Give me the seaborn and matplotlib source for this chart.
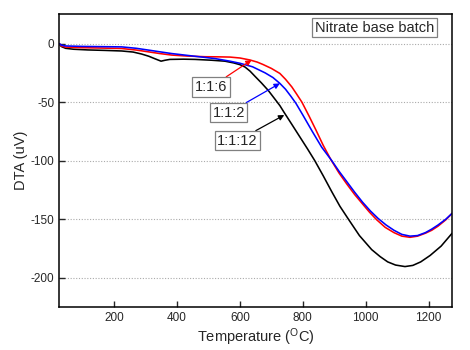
import numpy as np
import pandas as pd
import seaborn as sns
import matplotlib.pyplot as plt

# DTA curves (temperature in C, DTA in uV)
t_12 = [25, 32, 45, 70, 116, 170, 224, 260, 287, 310, 330, 349, 362, 377, 420, 457, 510, 552,
        580, 600, 616, 632, 648, 668, 690, 710, 727, 741, 765, 790, 815, 838, 865, 892, 918,
        945, 980, 1019, 1046, 1070, 1095, 1125, 1150, 1175, 1205, 1240, 1275]
dta_12 = [-0.5, -2.5, -4, -4.8, -5.4, -5.8, -6.3, -7.2, -8.9, -10.8, -13, -15, -14.2, -13.5, -13.3, -13.5, -14.2, -15,
          -16.5, -18, -20, -23.5, -28, -33.5, -40, -47, -53, -59, -69, -79.5, -90, -100, -113, -126.5, -139,
          -150, -164, -176, -182, -186.5, -189.2, -190.5, -189.5, -186.5, -181, -173, -162]

t_6 = [25, 32, 45, 100, 160, 224, 270, 308, 345, 383, 430, 489, 530, 568, 600, 632, 655, 673,
       700, 727, 745, 765, 780, 797, 820, 842, 865, 890, 915, 940, 965, 990, 1012, 1035, 1062,
       1090, 1115, 1141, 1165, 1190, 1210, 1230, 1255, 1275]
dta_6 = [0, -2, -3, -3.5, -3.8, -4.2, -5.5, -7, -8.5, -9.8, -10.6, -11.2, -11.3, -11.5, -12.3, -14, -15.8, -17.8,
         -21.2, -25.5, -30.5, -37, -43, -50, -62, -74, -87, -99.5, -110.5, -120, -129, -137, -144, -150.5, -157,
         -161.5, -164.5, -165.5, -164.5, -162, -159.5, -156, -150.5, -145]

t_2 = [25, 32, 45, 100, 160, 224, 270, 308, 345, 383, 450, 521, 568, 600, 640, 680, 705, 727,
       745, 762, 778, 800, 830, 860, 892, 915, 940, 965, 990, 1015, 1040, 1065, 1090, 1115,
       1141, 1165, 1190, 1210, 1230, 1255, 1275]
dta_2 = [0, -1.3, -2, -2.4, -2.6, -2.8, -4, -5.5, -7, -8.5, -10.6, -12.8, -15, -16.8, -19.8, -25, -29, -34,
         -39, -45, -51, -61, -75, -88.5, -100, -109, -118, -127, -135.5, -143, -149.5, -155, -159.5, -163,
         -164.5, -164, -161.5, -158.5, -155, -150, -145]

labels = ["1:1:12", "1:1:6", "1:1:2"]
colors = ["black", "red", "blue"]
# (text x, text y, arrow target x, arrow target y)
notes = {"1:1:6": (508, -37, 637, -14),
         "1:1:2": (564, -59, 727, -34),
         "1:1:12": (592, -83, 741, -61)}

sns.set_style("ticks")
plt.rcParams["font.family"] = ["Liberation Sans", "DejaVu Sans"]
plt.rcParams["axes.unicode_minus"] = False
plt.rcParams["mathtext.default"] = "regular"

fig = plt.figure(figsize=(4.7, 3.5), dpi=100)
ax = fig.add_axes([0.126, 0.123, 0.836, 0.836])

series = [(t_12, dta_12), (t_6, dta_6), (t_2, dta_2)]
for (t, d), lab, c in zip(series, labels, colors):
    df = pd.DataFrame({"T": t, "DTA": d})
    sns.lineplot(data=df, x="T", y="DTA", color=c, lw=1.15, ax=ax,
                 estimator=None, sort=False, legend=False)

for lab, c in zip(labels, colors):
    tx, ty, px, py = notes[lab]
    ax.annotate(lab, xy=(px, py), xytext=(tx, ty), fontsize=10.5,
                ha="center", va="center",
                bbox=dict(boxstyle="square,pad=0.18", fc="white", ec="gray", lw=0.9),
                arrowprops=dict(arrowstyle="-|>", color=c, lw=0.9,
                                mutation_scale=8, shrinkA=0, shrinkB=0))

ax.text(0.803, 0.954, "Nitrate base batch", transform=ax.transAxes, fontsize=10.5,
        ha="center", va="center",
        bbox=dict(boxstyle="square,pad=0.18", fc="white", ec="gray", lw=0.9))

ax.set_xlim(25, 1275)
ax.set_ylim(-225, 25)
ax.set_xticks([200, 400, 600, 800, 1000, 1200])
ax.set_yticks([0, -50, -100, -150, -200])
ax.yaxis.grid(True, ls=(0, (1, 1.5)), color="#aaaaaa", lw=0.8)
ax.tick_params(direction="in", length=4, width=1, labelsize=8.5)
for s in ax.spines.values():
    s.set_linewidth(1.1)
    s.set_color("black")

ax.set_xlabel("Temperature ($^{O}$C)", fontsize=10.5, labelpad=2)
ax.set_ylabel("DTA (uV)", fontsize=10.5, labelpad=2)

fig.savefig("out.png", dpi=100)
